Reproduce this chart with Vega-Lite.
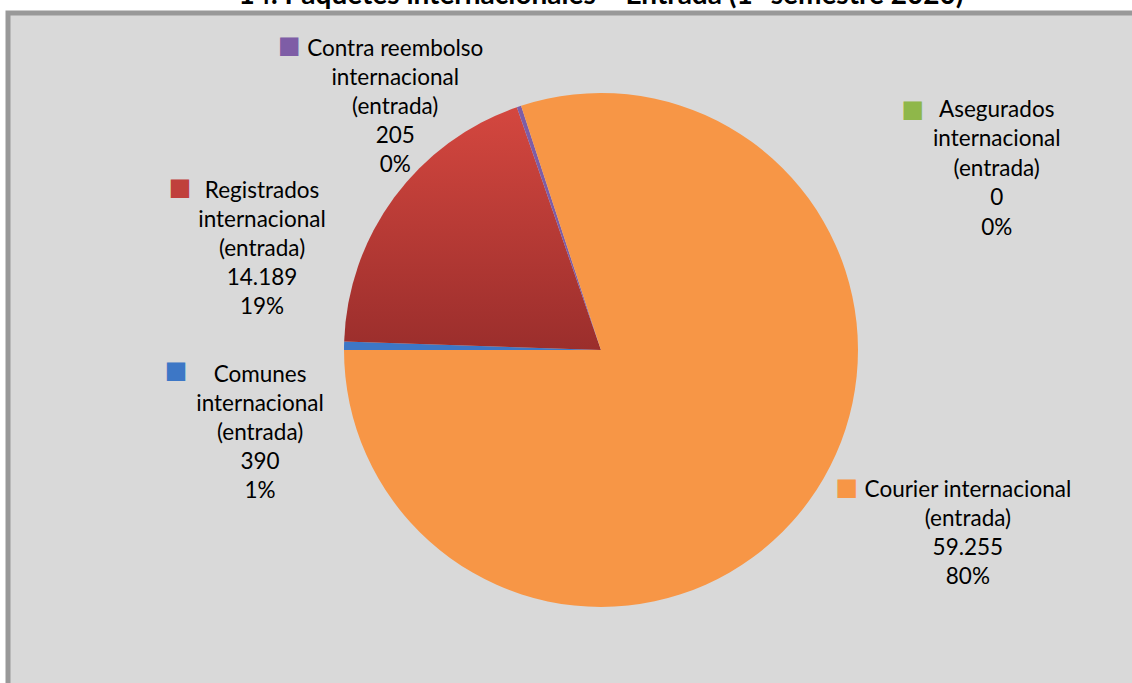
{
  "$schema": "https://vega.github.io/schema/vega-lite/v6.json",
  "width": 1186,
  "height": 674,
  "autosize": {"type": "none"},
  "padding": {"left": 8, "top": 13, "right": 0, "bottom": 0},
  "background": "white",
  "view": {"fill": "#d9d9d9", "stroke": "#999999", "strokeWidth": 5},
  "config": {
    "view": {"fill": "#d9d9d9", "stroke": "#999999", "strokeWidth": 5},
    "text": {"font": "Lato", "fontSize": 22.5, "color": "#000000"}
  },
  "title": {
    "text": "14. Paquetes internacionales – Entrada (1º semestre 2020)",
    "font": "Lato",
    "fontSize": 28,
    "fontWeight": "bold",
    "color": "#000000",
    "anchor": "middle",
    "frame": "group",
    "baseline": "alphabetic",
    "offset": 0,
    "dy": 19
  },
  "data": {
    "values": [
      {"cat": "Comunes internacional (entrada)", "v": 390},
      {"cat": "Registrados internacional (entrada)", "v": 14189},
      {"cat": "Contra reembolso internacional (entrada)", "v": 205},
      {"cat": "Asegurados internacional (entrada)", "v": 0},
      {"cat": "Courier internacional (entrada)", "v": 59255}
    ]
  },
  "transform": [
    {"window": [{"op": "row_number", "as": "i"}]},
    {"joinaggregate": [{"op": "sum", "field": "v", "as": "total"}]},
    {"window": [{"op": "sum", "field": "v", "as": "s1"}], "sort": [{"field": "i"}], "frame": [null, 0]},
    {"calculate": "(datum.s1 - datum.v) / datum.total", "as": "f0"},
    {"calculate": "datum.s1 / datum.total", "as": "f1"},
    {"calculate": "(datum.s1 - datum.v / 2) / datum.total", "as": "fm"},
    {"calculate": "replace(format(datum.v, ','), ',', '.') + '\\n' + format(datum.v / datum.total, '.0%')", "as": "nums"}
  ],
  "layer": [
    {
      "mark": {"type": "arc", "radius": 257},
      "encoding": {
        "theta": {"field": "f0", "type": "quantitative", "stack": null, "scale": {"domain": [0, 1], "range": [4.71238898038469, 10.995574287564276]}},
        "theta2": {"field": "f1"},
        "fill": {
          "condition": {
            "test": "datum.cat === 'Registrados internacional (entrada)'",
            "value": {"gradient": "linear", "x1": 0, "y1": 0, "x2": 0, "y2": 1, "stops": [{"offset": 0, "color": "#d4473f"}, {"offset": 1, "color": "#9b2e2c"}]}
          },
          "field": "cat",
          "type": "nominal",
          "scale": {
            "domain": ["Comunes internacional (entrada)", "Registrados internacional (entrada)", "Contra reembolso internacional (entrada)", "Asegurados internacional (entrada)", "Courier internacional (entrada)"],
            "range": ["#3d77c6", "#c0403c", "#7e5da6", "#8fb74a", "#f79646"]
          },
          "legend": null
        },
        "order": {"field": "i"}
      }
    },
    {
      "transform": [
        {"filter": "datum.cat === 'Comunes internacional (entrada)'"},
        {"calculate": "'Comunes\\ninternacional\\n(entrada)\\n' + datum.nums", "as": "lbl"}
      ],
      "encoding": {"theta": {"field": "fm", "type": "quantitative", "stack": null}},
      "layer": [
        {"mark": {"type": "text", "radius": 300, "dx": -41, "dy": 37, "baseline": "alphabetic", "lineHeight": 29, "lineBreak": "\n"}, "encoding": {"text": {"field": "lbl"}}},
        {"mark": {"type": "text", "radius": 300, "dx": -125, "dy": 26, "baseline": "middle", "font": "DejaVu Sans", "fontSize": 24, "color": "#3d77c6", "text": "■"}}
      ]
    },
    {
      "transform": [
        {"filter": "datum.cat === 'Registrados internacional (entrada)'"},
        {"calculate": "'Registrados\\ninternacional\\n(entrada)\\n' + datum.nums", "as": "lbl"}
      ],
      "encoding": {"theta": {"field": "fm", "type": "quantitative", "stack": null}},
      "layer": [
        {"mark": {"type": "text", "radius": 300, "dx": -97.5, "dy": 26, "baseline": "alphabetic", "lineHeight": 29, "lineBreak": "\n"}, "encoding": {"text": {"field": "lbl"}}},
        {"mark": {"type": "text", "radius": 300, "dx": -179.5, "dy": 16, "baseline": "middle", "font": "DejaVu Sans", "fontSize": 24, "color": "#c0403c", "text": "■"}}
      ]
    },
    {
      "transform": [
        {"filter": "datum.cat === 'Contra reembolso internacional (entrada)'"},
        {"calculate": "'Contra reembolso\\ninternacional\\n(entrada)\\n' + datum.nums", "as": "lbl"}
      ],
      "encoding": {"theta": {"field": "fm", "type": "quantitative", "stack": null}},
      "layer": [
        {"mark": {"type": "text", "radius": 300, "dx": -110, "dy": -10, "baseline": "alphabetic", "lineHeight": 29, "lineBreak": "\n"}, "encoding": {"text": {"field": "lbl"}}},
        {"mark": {"type": "text", "radius": 300, "dx": -216, "dy": -20, "baseline": "middle", "font": "DejaVu Sans", "fontSize": 24, "color": "#7e5da6", "text": "■"}}
      ]
    },
    {
      "transform": [
        {"filter": "datum.cat === 'Asegurados internacional (entrada)'"},
        {"calculate": "'Asegurados\\ninternacional\\n(entrada)\\n' + datum.nums", "as": "lbl"}
      ],
      "encoding": {"theta": {"field": "fm", "type": "quantitative", "stack": null}},
      "layer": [
        {"mark": {"type": "text", "radius": 300, "dx": 489, "dy": 52, "baseline": "alphabetic", "lineHeight": 29.5, "lineBreak": "\n"}, "encoding": {"text": {"field": "lbl"}}},
        {"mark": {"type": "text", "radius": 300, "dx": 405, "dy": 45, "baseline": "middle", "font": "DejaVu Sans", "fontSize": 24, "color": "#8fb74a", "text": "■"}}
      ]
    },
    {
      "transform": [
        {"filter": "datum.cat === 'Courier internacional (entrada)'"},
        {"calculate": "'Courier internacional\\n(entrada)\\n' + datum.nums", "as": "lbl"}
      ],
      "encoding": {"theta": {"field": "fm", "type": "quantitative", "stack": null}},
      "layer": [
        {"mark": {"type": "text", "radius": 300, "dx": 124, "dy": -29, "baseline": "alphabetic", "lineHeight": 29, "lineBreak": "\n"}, "encoding": {"text": {"field": "lbl"}}},
        {"mark": {"type": "text", "radius": 300, "dx": 3, "dy": -38, "baseline": "middle", "font": "DejaVu Sans", "fontSize": 24, "color": "#f79646", "text": "■"}}
      ]
    }
  ]
}
